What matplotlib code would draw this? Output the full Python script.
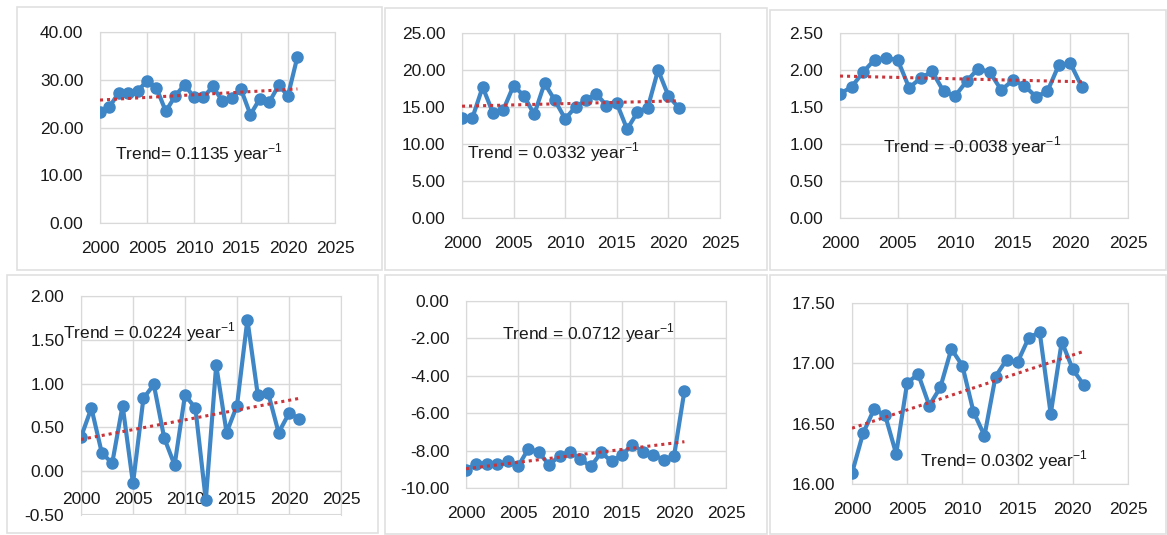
import numpy as np
import matplotlib
matplotlib.use("Agg")
import matplotlib.pyplot as plt
from matplotlib.patches import Rectangle

plt.rcParams['font.family'] = ['Liberation Sans', 'DejaVu Sans']
plt.rcParams['mathtext.fontset'] = 'custom'
plt.rcParams['mathtext.rm'] = 'Liberation Sans'

years = np.arange(2000, 2022)

# panel series
p1 = [23.2, 24.3, 27.3, 27.3, 27.6, 29.8, 28.3, 23.4, 26.6, 29.0, 26.3,
      26.3, 28.6, 25.6, 26.1, 28.0, 22.7, 26.0, 25.3, 28.8, 26.7, 34.8]
p2 = [13.5, 13.5, 17.7, 14.2, 14.6, 17.9, 16.5, 14.0, 18.2, 15.9, 13.4,
      15.0, 15.9, 16.8, 15.2, 15.5, 12.0, 14.3, 14.9, 20.0, 16.5, 14.9]
p3 = [1.68, 1.77, 1.97, 2.14, 2.16, 2.14, 1.76, 1.89, 1.98, 1.71, 1.65,
      1.85, 2.02, 1.97, 1.73, 1.86, 1.79, 1.64, 1.71, 2.07, 2.09, 1.77]
p4 = [0.39, 0.72, 0.21, 0.09, 0.75, -0.14, 0.83, 0.99, 0.38, 0.07, 0.87,
      0.72, -0.33, 1.21, 0.44, 0.75, 1.73, 0.87, 0.89, 0.44, 0.66, 0.60]
p5 = [-9.04, -8.70, -8.70, -8.74, -8.56, -8.85, -7.90, -8.10, -8.76, -8.28, -8.05,
      -8.46, -8.85, -8.10, -8.58, -8.22, -7.69, -8.05, -8.22, -8.49, -8.31, -4.81]
p6 = [16.09, 16.42, 16.62, 16.57, 16.25, 16.84, 16.91, 16.65, 16.80, 17.12, 16.98,
      16.60, 16.40, 16.89, 17.03, 17.01, 17.21, 17.26, 16.58, 17.18, 16.95, 16.82]

series = [p1, p2, p3, p4, p5, p6]
trend_labels = ['Trend= 0.1135 ', 'Trend = 0.0332 ', 'Trend = -0.0038 ',
                'Trend = 0.0224 ', 'Trend = 0.0712 ', 'Trend= 0.0302 ']
ylims = [(0, 40), (0, 25), (0, 2.5), (-0.5, 2.0), (-10, 0), (16.0, 17.5)]
ysteps = [10, 5, 0.5, 0.5, 2, 0.5]
label_pos = [(2001.6, 14.7), (2000.5, 8.9), (2003.7, 0.97),
             (1998.3, 1.59), (2003.5, -1.71), (2006.2, 16.2)]

# axes placement in pixels: left, top, right, bottom
W, H = 1167, 535
boxes = [(100, 32, 335, 223), (462, 33, 720, 218), (840, 33, 1128, 218),
         (81, 296, 341, 515), (466, 301, 726, 488), (852, 303, 1128, 484)]
frames = [(17, 7, 382, 270), (385, 8, 767, 270), (770, 10, 1166, 270),
          (7, 275, 378, 533), (385, 275, 767, 534), (770, 275, 1166, 534)]

blue = '#3f86c6'
red = '#c8353a'
grid_c = '#d9d9d9'
text_c = '#1a1a1a'

fig = plt.figure(figsize=(W / 100, H / 100), dpi=100)

for (l, t, r, b) in frames:
    fig.patches.append(Rectangle((l / W, 1 - b / H), (r - l) / W, (b - t) / H,
                                 transform=fig.transFigure, fill=False,
                                 edgecolor='#e0e0e0', linewidth=1.2))

for i, vals in enumerate(series):
    l, t, r, b = boxes[i]
    ax = fig.add_axes([l / W, 1 - b / H, (r - l) / W, (b - t) / H])
    vals = np.array(vals)
    ax.plot(years, vals, color=blue, linewidth=3, marker='o',
            markersize=8, zorder=3)
    k, c = np.polyfit(years, vals, 1)
    ax.plot(years, k * years + c, color=red, linestyle=(0, (1, 1.3)),
            linewidth=2.2, zorder=4)

    lo, hi = ylims[i]
    ax.set_xlim(2000, 2025)
    ax.set_ylim(lo, hi)
    ax.set_xticks(np.arange(2000, 2026, 5))
    ax.set_yticks(np.arange(lo, hi + ysteps[i] / 2, ysteps[i]))
    ax.yaxis.set_major_formatter(matplotlib.ticker.FormatStrFormatter('%.2f'))
    ax.grid(True, color=grid_c, linewidth=1)
    ax.set_axisbelow(True)
    for s in ax.spines.values():
        s.set_color(grid_c)
    ax.tick_params(length=0, labelsize=12.5, colors=text_c)
    ax.tick_params(axis='y', pad=12)
    ax.tick_params(axis='x', pad=13)
    if i == 3:
        ax.spines['bottom'].set_position(('data', 0))
        ax.tick_params(axis='x', pad=15)
        ax.axhline(lo, color=grid_c, linewidth=1.5, zorder=0)

    tx, ty = label_pos[i]
    ax.text(tx, ty, trend_labels[i] + r'year$^{\mathregular{-1}}$',
            fontsize=12.5, color=text_c, ha='left', va='center',
            clip_on=False, zorder=5)

fig.savefig('out.png', dpi=100)
